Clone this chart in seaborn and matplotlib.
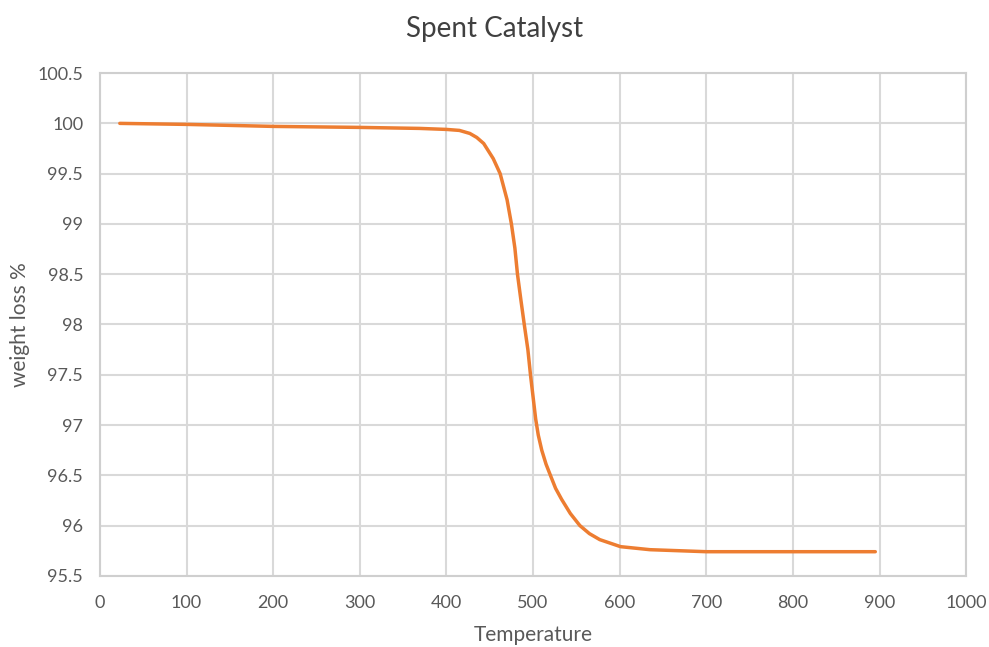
import pandas as pd
import seaborn as sns
import matplotlib.pyplot as plt
from matplotlib.ticker import FuncFormatter

# TGA curve
temperature = [23, 100, 200, 300, 369, 400, 415, 427, 435, 443, 454, 462, 470, 475,
               479, 482, 486, 490, 494, 497, 500, 503, 506, 510, 515, 520, 526, 533,
               543, 554, 565, 577, 601, 635, 700, 800, 895]
weight = [100.0, 99.99, 99.97, 99.96, 99.95, 99.94, 99.93, 99.90, 99.86, 99.80, 99.65,
          99.5, 99.24, 99.0, 98.76, 98.5, 98.24, 97.99, 97.75, 97.5, 97.28, 97.06,
          96.9, 96.75, 96.61, 96.5, 96.37, 96.26, 96.12, 96.0, 95.92, 95.86, 95.79,
          95.76, 95.74, 95.74, 95.74]
x_ticks = list(range(0, 1001, 100))
y_ticks = [95.5, 96, 96.5, 97, 97.5, 98, 98.5, 99, 99.5, 100, 100.5]

df = pd.DataFrame({'Temperature': temperature, 'weight loss %': weight})

sns.set_style('white')
plt.rcParams['font.family'] = ['Lato', 'DejaVu Sans']
text_col = '#595959'

fig = plt.figure(figsize=(9.89, 6.47), dpi=100)
ax = fig.add_axes([0.101, 0.110, 0.876, 0.777])

sns.lineplot(data=df, x='Temperature', y='weight loss %', color='#ED7D31',
             linewidth=2.5, ax=ax)

ax.set_xlim(0, 1000)
ax.set_ylim(95.5, 100.5)
ax.set_xticks(x_ticks)
ax.set_yticks(y_ticks)
ax.yaxis.set_major_formatter(FuncFormatter(lambda v, p: f'{v:g}'))
ax.grid(True, color='#d9d9d9', linewidth=1.5)
ax.set_axisbelow(True)
for s in ax.spines.values():
    s.set_color('#cfcfcf')
    s.set_linewidth(1.5)
ax.tick_params(length=0, labelsize=13, colors=text_col)
ax.tick_params(axis='x', pad=14)
ax.tick_params(axis='y', pad=12)

ax.set_xlabel('Temperature', fontsize=15, color=text_col, labelpad=10)
ax.set_ylabel('weight loss %', fontsize=15, color=text_col, labelpad=5)
fig.suptitle('Spent Catalyst', fontsize=20, color='#404040', y=0.975)

plt.savefig('out.png', dpi=100)
